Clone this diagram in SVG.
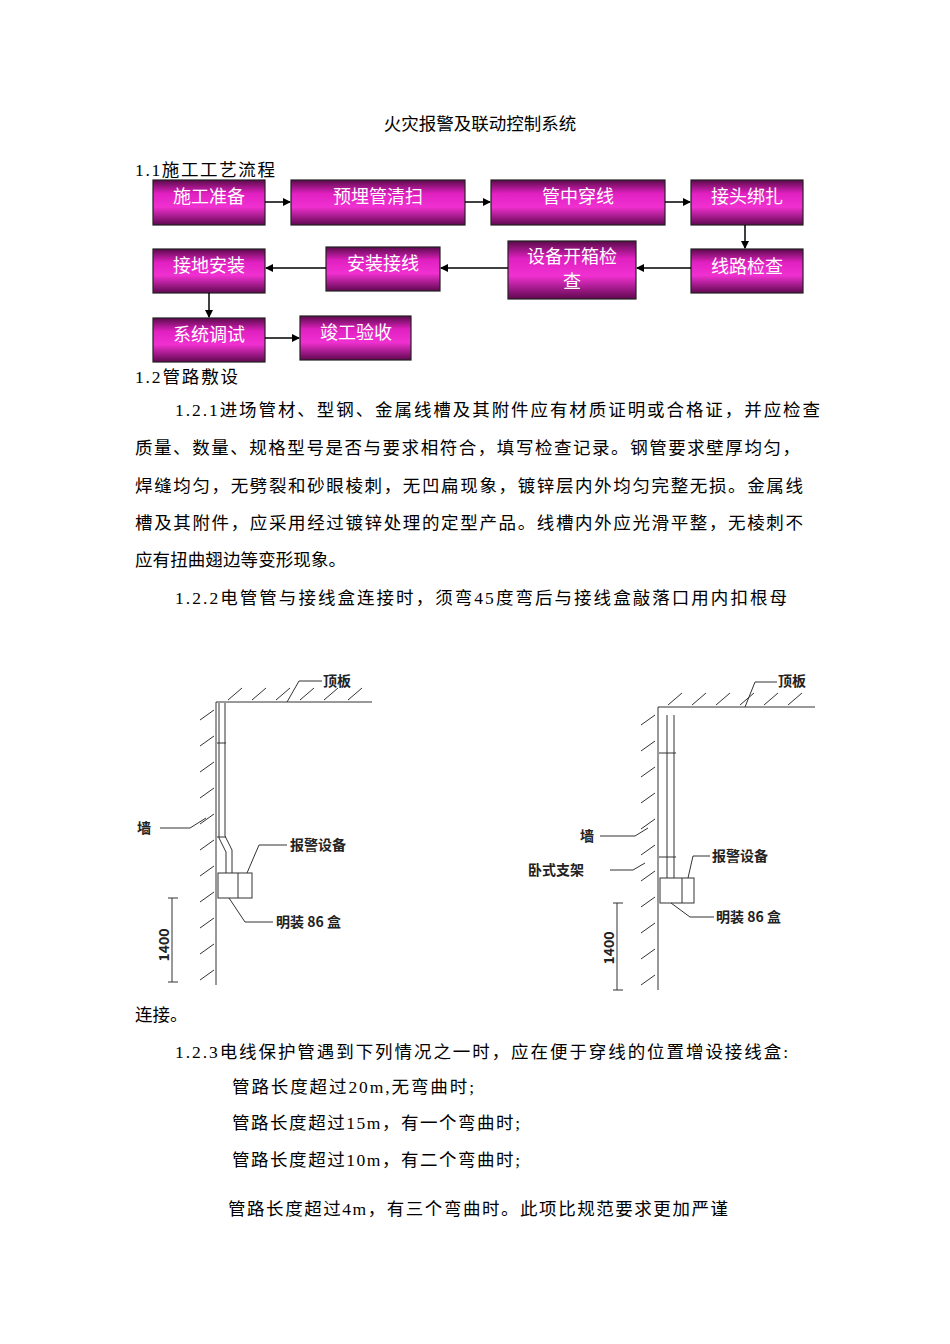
<svg xmlns="http://www.w3.org/2000/svg" width="950" height="1344" viewBox="0 0 950 1344">
<defs>
<linearGradient id="g" x1="0" y1="0" x2="0" y2="1">
<stop offset="0" stop-color="#5a0a4a"/><stop offset="0.3" stop-color="#e020c0"/><stop offset="0.6" stop-color="#f030d0"/><stop offset="1" stop-color="#600850"/>
</linearGradient>
<marker id="a" markerWidth="8" markerHeight="8" refX="7" refY="4" orient="auto" markerUnits="userSpaceOnUse"><path d="M0,0 L8,4 L0,8 z" fill="#000"/></marker>
<style>
.b{fill:url(#g);stroke:#222;stroke-width:1.2}
.bt{font-family:"Noto Sans CJK SC",sans-serif;font-size:18px;fill:#fff;text-anchor:middle}
.t{font-family:"Liberation Serif","Noto Sans CJK SC",serif;font-size:17.5px;fill:#000}
.c{stroke:#000;stroke-width:1.5;fill:none}
.d{stroke:#333;stroke-width:1;fill:none}
.l{font-family:"Noto Sans CJK SC",sans-serif;font-size:14px;font-weight:bold;fill:#222}
</style>
</defs>
<rect width="950" height="1344" fill="#fff"/>
<text class="t" x="480" y="130" text-anchor="middle" font-size="15">火灾报警及联动控制系统</text>
<text class="t" x="135" y="176" textLength="140">1.1施工工艺流程</text>
<g id="n1"><rect class="b" x="153" y="180" width="112" height="45"/><text class="bt" x="209" y="203">施工准备</text></g>
<g id="n2"><rect class="b" x="291" y="180" width="174" height="45"/><text class="bt" x="378" y="203">预埋管清扫</text></g>
<g id="n3"><rect class="b" x="491" y="180" width="174" height="45"/><text class="bt" x="578" y="203">管中穿线</text></g>
<g id="n4"><rect class="b" x="691" y="180" width="112" height="45"/><text class="bt" x="747" y="203">接头绑扎</text></g>
<g id="n5"><rect class="b" x="691" y="249" width="112" height="44"/><text class="bt" x="747" y="273">线路检查</text></g>
<g id="n6"><rect class="b" x="508" y="241" width="128" height="58"/><text class="bt" x="572" y="263">设备开箱检</text><text class="bt" x="572" y="288">查</text></g>
<g id="n7"><rect class="b" x="326" y="247" width="114" height="44"/><text class="bt" x="383" y="270">安装接线</text></g>
<g id="n8"><rect class="b" x="153" y="249" width="112" height="44"/><text class="bt" x="209" y="272">接地安装</text></g>
<g id="n9"><rect class="b" x="153" y="318" width="112" height="44"/><text class="bt" x="209" y="341">系统调试</text></g>
<g id="n10"><rect class="b" x="300" y="316" width="111" height="44"/><text class="bt" x="356" y="339">竣工验收</text></g>
<g id="connectors" class="c">
<path d="M265,202 H290" marker-end="url(#a)"/>
<path d="M465,202 H490" marker-end="url(#a)"/>
<path d="M665,202 H690" marker-end="url(#a)"/>
<path d="M745,225 V248" marker-end="url(#a)"/>
<path d="M691,268 H637" marker-end="url(#a)"/>
<path d="M508,268 H441" marker-end="url(#a)"/>
<path d="M326,268 H266" marker-end="url(#a)"/>
<path d="M209,293 V317" marker-end="url(#a)"/>
<path d="M265,338 H299" marker-end="url(#a)"/>
</g>
<text class="t" x="135" y="383" textLength="103">1.2管路敷设</text>
<text class="t" x="175" y="416" textLength="645">1.2.1进场管材、型钢、金属线槽及其附件应有材质证明或合格证，并应检查</text>
<text class="t" x="135" y="454" textLength="665">质量、数量、规格型号是否与要求相符合，填写检查记录。钢管要求壁厚均匀，</text>
<text class="t" x="135" y="492" textLength="668">焊缝均匀，无劈裂和砂眼棱刺，无凹扁现象，镀锌层内外均匀完整无损。金属线</text>
<text class="t" x="135" y="529" textLength="668">槽及其附件，应采用经过镀锌处理的定型产品。线槽内外应光滑平整，无棱刺不</text>
<text class="t" x="135" y="566" textLength="211">应有扭曲翅边等变形现象。</text>
<text class="t" x="175" y="604" textLength="612">1.2.2电管管与接线盒连接时，须弯45度弯后与接线盒敲落口用内扣根母</text>
<g id="left-drawing">
<path class="d" d="M216,702 H372 M216,702 V985"/>
<path class="d" d="M228,700 l14,-12 M252,700 l14,-12 M276,700 l14,-12 M300,700 l14,-12 M324,700 l14,-12 M348,700 l14,-12"/>
<path class="d" d="M200,720 l14,-10 M200,746 l14,-10 M200,772 l14,-10 M200,798 l14,-10 M200,824 l14,-10 M200,850 l14,-10 M200,876 l14,-10 M200,902 l14,-10 M200,928 l14,-10 M200,954 l14,-10 M200,980 l14,-10"/>
<path class="d" d="M219,703 V838 L226,852 V873 M225,703 V836 L232,850 V873"/>
<path class="d" d="M217,743 h9 M217,837 h9"/>
<rect class="d" x="218" y="873" width="34" height="25"/><path class="d" d="M238,873 V898"/>
<path class="d" d="M172,898 V982 M168,898 h10 M168,982 h10"/>
<text class="l" font-size="10" font-weight="normal" transform="translate(169,945) rotate(-90)" text-anchor="middle">1400</text>
<path class="d" d="M287,702 L299,681 H322"/><text class="l" x="323" y="686">顶板</text>
<path class="d" d="M160,828 H190 L206,818"/><text class="l" x="137" y="833">墙</text>
<path class="d" d="M287,845 H259 L247,873"/><text class="l" x="290" y="850">报警设备</text>
<path class="d" d="M273,922 H245 L229,898"/><text class="l" x="276" y="927">明装 86 盒</text>
</g>
<g id="right-drawing">
<path class="d" d="M658,707 H815 M658,707 V990"/>
<path class="d" d="M668,705 l14,-12 M692,705 l14,-12 M716,705 l14,-12 M740,705 l14,-12 M764,705 l14,-12 M788,705 l14,-12"/>
<path class="d" d="M641,725 l14,-10 M641,751 l14,-10 M641,777 l14,-10 M641,803 l14,-10 M641,829 l14,-10 M641,855 l14,-10 M641,881 l14,-10 M641,907 l14,-10 M641,933 l14,-10 M641,959 l14,-10 M641,985 l14,-10"/>
<path class="d" d="M667,715 V878 M674,715 V878"/>
<path class="d" d="M659,753 h17 M659,857 h17"/>
<rect class="d" x="660" y="878" width="34" height="25"/><path class="d" d="M682,878 V903"/>
<path class="d" d="M617,903 V990 M613,903 h10 M613,990 h10"/>
<text class="l" font-size="10" font-weight="normal" transform="translate(614,948) rotate(-90)" text-anchor="middle">1400</text>
<path class="d" d="M745,707 L755,682 H777"/><text class="l" x="778" y="686">顶板</text>
<path class="d" d="M600,836 H635 L648,828"/><text class="l" x="580" y="841">墙</text>
<path class="d" d="M610,870 H633 L645,863"/><text class="l" x="528" y="875">卧式支架</text>
<path class="d" d="M710,856 H693 L688,878"/><text class="l" x="712" y="861">报警设备</text>
<path class="d" d="M714,917 H690 L671,903"/><text class="l" x="716" y="922">明装 86 盒</text>
</g>
<text class="t" x="135" y="1021">连接。</text>
<text class="t" x="175" y="1058" textLength="613">1.2.3电线保护管遇到下列情况之一时，应在便于穿线的位置增设接线盒:</text>
<text class="t" x="232" y="1093" textLength="242">管路长度超过20m,无弯曲时;</text>
<text class="t" x="232" y="1129" textLength="288">管路长度超过15m，有一个弯曲时;</text>
<text class="t" x="232" y="1166" textLength="288">管路长度超过10m，有二个弯曲时;</text>
<text class="t" x="228" y="1215" textLength="500">管路长度超过4m，有三个弯曲时。此项比规范要求更加严谨</text>
</svg>
